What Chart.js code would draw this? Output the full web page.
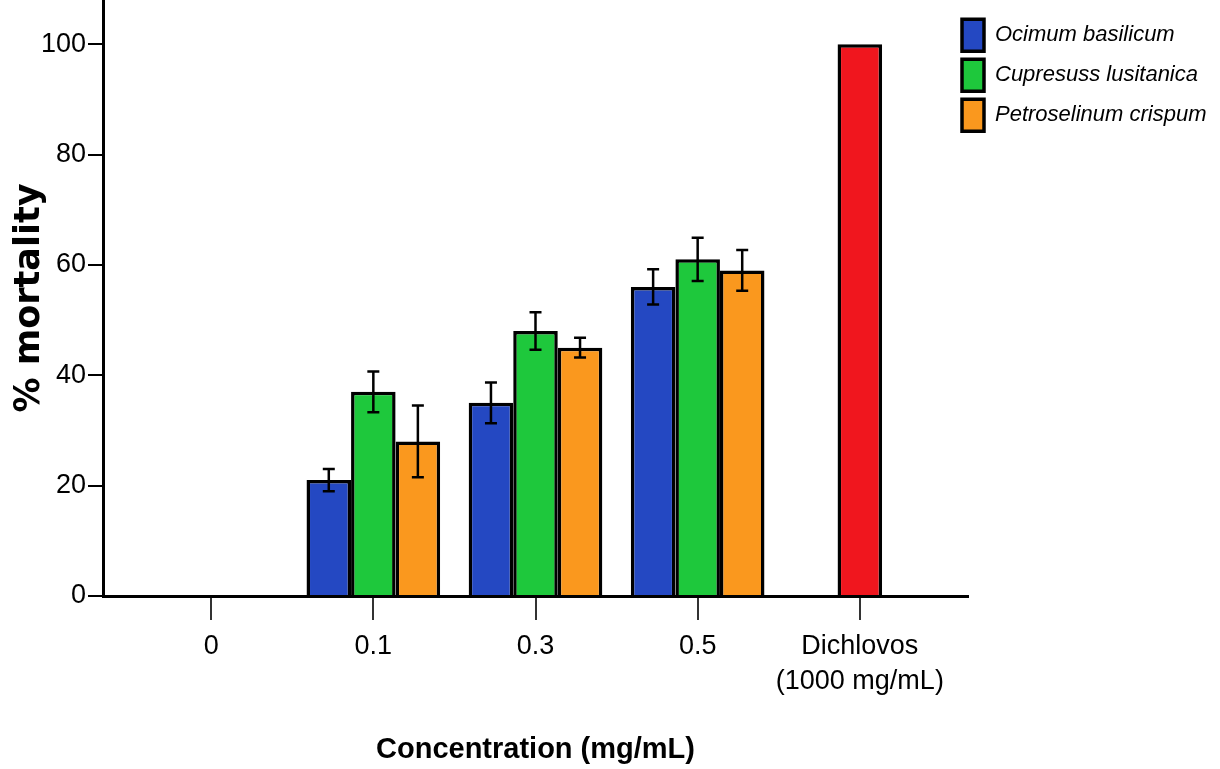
<!DOCTYPE html>
<html>
<head>
<meta charset="utf-8">
<script src="https://cdn.jsdelivr.net/npm/chart.js@4.4.1/dist/chart.umd.min.js"></script>
<style>
  html, body { margin: 0; padding: 0; background: #fff; }
  #wrap { width: 1220px; height: 769px; position: relative; }
</style>
</head>
<body>
<div id="wrap"><canvas id="c"></canvas></div>
<script>
// ---- data ----
const categories = ["0", "0.1", "0.3", "0.5", ["Dichlovos", "(1000 mg/mL)"]];
const seriesNames = ["Ocimum basilicum", "Cupresuss lusitanica", "Petroselinum crispum"];
const ocimum = [0, 21, 35, 56, 0];
const cupresuss = [0, 37, 48, 61, 100];
const petroselinum = [0, 28, 45, 59, 0];
const ocimumErr = [0, 2.0, 3.7, 3.2, 0];
const cupresussErr = [0, 3.7, 3.4, 3.9, 0];
const petroselinumErr = [0, 6.5, 1.8, 3.7, 0];
const yTicks = [0, 20, 40, 60, 80, 100];

// ---- fonts ----
function fontAvail(name) {
  const ctx = document.createElement('canvas').getContext('2d');
  ctx.font = '40px monospace';
  const w1 = ctx.measureText('Concentration mg/mL').width;
  ctx.font = '40px "' + name + '", monospace';
  return Math.abs(ctx.measureText('Concentration mg/mL').width - w1) > 0.5;
}
const narrow = fontAvail('Liberation Sans Narrow');
const FAM = narrow ? '"Liberation Sans Narrow", "Liberation Sans", Arial, sans-serif' : '"Liberation Sans", Arial, sans-serif';
const tickSize = narrow ? 30 : 27;
const xTitleSize = narrow ? 34 : 29;
const legendSize = narrow ? 26 : 22;

const blue = 'rgb(36,72,194)';
const green = 'rgb(30,200,60)';
const orange = 'rgb(250,152,30)';
const red = 'rgb(240,22,30)';

function pts(arr) { return arr.map((v, i) => ({ x: i, y: v })); }

const errorBars = {
  id: 'errorBars',
  afterDatasetsDraw(chart) {
    const ctx = chart.ctx;
    const ys = chart.scales.y;
    const errs = [ocimumErr, cupresussErr, petroselinumErr];
    const vals = [ocimum, cupresuss, petroselinum];
    ctx.save();
    ctx.strokeStyle = '#000';
    ctx.lineWidth = 2.5;
    chart.data.datasets.forEach((ds, di) => {
      const meta = chart.getDatasetMeta(di);
      meta.data.forEach((bar, i) => {
        const e = errs[di][i];
        if (!e) return;
        const v = vals[di][i];
        const x = bar.x;
        const yTop = ys.getPixelForValue(v + e);
        const yBot = ys.getPixelForValue(v - e);
        const cw = 6;
        ctx.beginPath();
        ctx.moveTo(x, yTop); ctx.lineTo(x, yBot);
        ctx.moveTo(x - cw, yTop); ctx.lineTo(x + cw, yTop);
        ctx.moveTo(x - cw, yBot); ctx.lineTo(x + cw, yBot);
        ctx.stroke();
      });
    });
    ctx.restore();
  }
};

// legend sits slightly over the plot's right end, as in the reference
const legendPlace = {
  id: 'legendPlace',
  beforeLayout(chart) {
    const lg = chart.legend;
    if (lg && !lg._patched) {
      const orig = lg.fit;
      lg.fit = function () { orig.call(this); this.width = 252; };
      lg._patched = true;
    }
  },
  afterLayout(chart) {
    const lg = chart.legend;
    if (lg) { lg.left = 954; lg.right = 1220; lg.width = 266; }
  }
};

new Chart(document.getElementById('c'), {
  type: 'bar',
  data: {
    datasets: [
      { label: seriesNames[0], data: pts(ocimum), backgroundColor: blue, borderColor: '#000', borderWidth: 3.5 },
      { label: seriesNames[1], data: pts(cupresuss), backgroundColor: [green, green, green, green, red], borderColor: '#000', borderWidth: 3.5 },
      { label: seriesNames[2], data: pts(petroselinum), backgroundColor: orange, borderColor: '#000', borderWidth: 3.5 }
    ]
  },
  options: {
    responsive: true,
    maintainAspectRatio: false,
    animation: false,
    layout: { padding: 0 },
    categoryPercentage: 0.824,
    barPercentage: 1.0,
    plugins: {
      tooltip: { enabled: false },
      legend: {
        position: 'right',
        align: 'start',
        title: { display: true, text: ' ', font: { size: 1 }, padding: 5 },
        labels: {
          boxWidth: 22,
          boxHeight: 32,
          padding: 8,
          color: '#000',
          font: { family: FAM, size: legendSize, style: 'italic' }
        }
      }
    },
    scales: {
      x: {
        type: 'linear',
        offset: false,
        min: -0.667,
        max: 4.667,
        afterBuildTicks(scale) { scale.ticks = categories.map((c, i) => ({ value: i })); },
        afterFit(scale) { scale.height = 173; scale.paddingLeft = 0; scale.paddingRight = 0; },
        ticks: {
          color: '#000',
          padding: 9,
          maxRotation: 0,
          autoSkip: false,
          font: { family: FAM, size: tickSize, lineHeight: 1.3 },
          callback: (v) => categories[v]
        },
        grid: { offset: false, drawOnChartArea: false, drawTicks: true, tickLength: 24, color: '#333', lineWidth: 2 },
        border: { display: true, color: '#000', width: 3 },
        title: {
          display: true,
          text: 'Concentration (mg/mL)',
          color: '#000',
          font: { family: FAM, size: xTitleSize, weight: 'bold' },
          padding: { top: 0, bottom: 2 }
        }
      },
      y: {
        min: 0,
        max: 108,
        afterBuildTicks(scale) { scale.ticks = yTicks.map(v => ({ value: v })); },
        afterFit(scale) { scale.width = 103; scale.paddingTop = 0; scale.paddingBottom = 0; },
        ticks: {
          color: '#000',
          padding: 2,
          font: { family: FAM, size: tickSize }
        },
        grid: { drawOnChartArea: false, drawTicks: true, tickLength: 15, color: '#000', lineWidth: 2 },
        border: { display: true, color: '#000', width: 3 },
        title: {
          display: true,
          text: '% mortality',
          color: '#000',
          font: { family: '"DejaVu Sans", sans-serif', size: 35, weight: 'bold' },
          padding: { top: 9, bottom: 0 }
        }
      }
    }
  },
  plugins: [errorBars, legendPlace]
});
</script>
</body>
</html>
